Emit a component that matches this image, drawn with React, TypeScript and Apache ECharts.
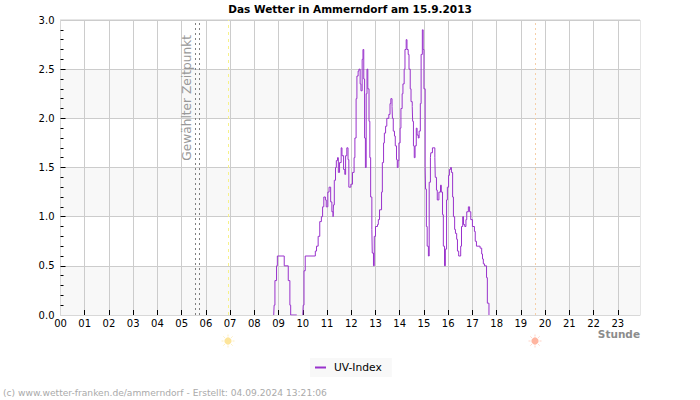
import React, { useEffect, useRef } from "react";
import * as echarts from "echarts";

// UV index through the day; times are minutes since midnight.
const morningMinutes = [528, 529, 531, 535, 537, 554, 564, 568, 570];
const morningValues = [0, 0.1, 0.35, 0.5, 0.6, 0.5, 0.35, 0.1, 0];

const dayMinutes = [
  600, 601, 603, 606, 631, 634, 638, 642, 646, 649, 652, 656, 658, 662, 665, 669, 672, 675, 676, 678,
  681, 683, 686, 688, 691, 695, 697, 701, 704, 706, 709, 712, 714, 719, 723, 727, 729, 732, 734, 737,
  739, 742, 744, 747, 749, 751, 753, 755, 757, 759, 761, 764, 766, 768, 771, 772, 775, 777, 780, 785,
  787, 790, 795, 797, 800, 802, 805, 808, 813, 816, 818, 821, 822, 824, 827, 829, 832, 834, 836, 838,
  841, 843, 846, 848, 851, 853, 856, 858, 861, 863, 866, 868, 871, 872, 874, 876, 878, 881, 883, 886,
  888, 891, 893, 896, 898, 900, 903, 904, 906, 908, 911, 913, 916, 917, 921, 927, 928, 931, 933, 937,
  941, 943, 946, 948, 951, 953, 956, 958, 961, 963, 966, 968, 971, 973, 976, 978, 981, 983, 986, 991,
  993, 996, 998, 1001, 1004, 1006, 1010, 1013, 1016, 1020, 1025, 1027, 1030, 1039, 1043, 1045, 1047, 1050, 1055, 1057,
  1061,
];
const dayValues = [
  0, 0.1, 0.45, 0.6, 0.65, 0.7, 0.8, 0.95, 1.0, 1.1, 1.2, 1.17, 1.1, 1.25, 1.3, 1.15, 1.05, 1.0, 1.12, 1.37,
  1.5, 1.57, 1.6, 1.45, 1.55, 1.7, 1.62, 1.48, 1.43, 1.62, 1.7, 1.58, 1.3, 1.33, 1.45, 1.6, 1.8, 2.2, 2.43, 2.48,
  2.5, 2.35, 2.28, 2.6, 2.7, 2.4, 1.8, 1.5, 2.25, 2.5, 2.3, 1.97, 1.6, 1.2, 0.87, 0.63, 0.5, 0.8, 0.9, 0.92,
  0.97, 1.07, 1.25, 1.55, 1.75, 1.85, 1.92, 2.0, 2.04, 2.15, 2.2, 2.12, 2.0, 1.87, 1.82, 1.72, 1.58, 1.5, 1.57, 1.75,
  1.9, 2.1, 2.25, 2.35, 2.5, 2.7, 2.8, 2.7, 2.65, 2.5, 2.3, 2.17, 2.12, 1.97, 1.72, 1.6, 1.72, 1.9, 1.83, 1.8,
  1.87, 2.15, 2.65, 2.9, 2.7, 2.3, 1.5, 1.28, 0.9, 0.7, 0.6, 1.35, 1.6, 1.65, 1.7, 1.6, 1.4, 1.27, 1.17, 1.25,
  1.32, 1.25, 1.02, 0.7, 0.5, 0.67, 1.17, 1.3, 1.42, 1.48, 1.5, 1.45, 1.2, 1.0, 0.87, 0.83, 0.77, 0.65, 0.6, 0.7,
  0.9, 1.0, 0.92, 0.9, 0.97, 1.05, 1.1, 1.05, 0.97, 0.9, 0.85, 0.75, 0.7, 0.68, 0.62, 0.57, 0.52, 0.5, 0.38, 0.12,
  0,
];

const hourTicks = Array.from({ length: 24 }, (_, h) => h * 60);
const valueTicks = [0.5, 1.0, 1.5, 2.0, 2.5];
const fineValueTicks = [
  0.1, 0.2, 0.3, 0.4, 0.6, 0.7, 0.8, 0.9, 1.1, 1.2, 1.3, 1.4, 1.6, 1.7, 1.8, 1.9, 2.1, 2.2, 2.3, 2.4, 2.6, 2.7, 2.8, 2.9,
];
const selectedMinutes = [333, 343];
const sunriseMinute = 416;
const sunsetMinute = 1175;

const font = "DejaVu Sans";

function sun(cx: number, cy: number, core: string, ray: string) {
  const rays = Array.from({ length: 8 }, (_, i) => {
    const a = (i * Math.PI) / 4;
    return {
      type: "line",
      shape: {
        x1: cx + Math.cos(a) * 4.5,
        y1: cy + Math.sin(a) * 4.5,
        x2: cx + Math.cos(a) * 6.5,
        y2: cy + Math.sin(a) * 6.5,
      },
      style: { stroke: ray, lineWidth: 1 },
    };
  });
  return {
    type: "group",
    children: [...rays, { type: "circle", shape: { cx, cy, r: 3.6 }, style: { fill: core } }],
  };
}

// A tick-only y axis on the main scale; one carries the half-unit ticks, one the tenths.
function tickAxis(values: number[], length: number) {
  return {
    type: "value",
    position: "left",
    min: 0,
    max: 3,
    interval: 0.5,
    axisLine: { show: false },
    axisLabel: { show: false },
    splitLine: { show: false },
    splitArea: { show: false },
    axisTick: {
      show: true,
      inside: true,
      length,
      lineStyle: { color: "#000000", width: 1 },
      customValues: values,
    },
  };
}

export default function App() {
  const ref = useRef<HTMLDivElement>(null);

  useEffect(() => {
    document.body.style.margin = "0";
    const chart = echarts.init(ref.current!, null, { renderer: "svg" });
    const points = [
      ...morningMinutes.map((m, i) => [m, morningValues[i]]),
      [585, null],
      ...dayMinutes.map((m, i) => [m, dayValues[i]]),
    ];
    chart.setOption({
      animation: false,
      backgroundColor: "#ffffff",
      title: {
        text: "Das Wetter in Ammerndorf am 15.9.2013",
        left: 350,
        top: 3,
        padding: 0,
        textAlign: "center",
        textStyle: { fontFamily: font, fontSize: 10.5, fontWeight: "bold", color: "#000000" },
      },
      legend: {
        left: 310,
        top: 358,
        padding: [4, 10, 4, 5],
        backgroundColor: "#f8f8f8",
        itemWidth: 11,
        itemHeight: 2,
        itemGap: 0,
        icon: "rect",
        textStyle: { fontFamily: font, fontSize: 10.7, color: "#000000", padding: [0, 0, 0, 3] },
        data: ["UV-Index"],
      },
      grid: {
        left: 60.5,
        right: 60,
        top: 20,
        bottom: 85,
        containLabel: false,
        show: true,
        borderColor: "#cccccc",
        borderWidth: 1,
        backgroundColor: "transparent",
      },
      xAxis: {
        type: "value",
        min: 0,
        max: 1435,
        interval: 60,
        name: "Stunde",
        nameLocation: "end",
        nameGap: 0,
        nameTextStyle: {
          fontFamily: font,
          fontSize: 10.5,
          fontWeight: "bold",
          color: "#8c8c8c",
          align: "right",
          verticalAlign: "top",
          padding: [13, 0, 0, 0],
        },
        axisLine: { show: true, lineStyle: { color: "#d8d8d8", width: 1 } },
        axisTick: {
          show: true,
          inside: true,
          length: 5,
          lineStyle: { color: "#000000", width: 1 },
          customValues: hourTicks.slice(1),
        },
        axisLabel: {
          fontFamily: font,
          fontSize: 10,
          color: "#000000",
          margin: 3,
          customValues: hourTicks,
          formatter: (v: number) => String(Math.round(v / 60)).padStart(2, "0"),
        },
        splitLine: { show: true, lineStyle: { color: "#cccccc", width: 1 } },
      },
      yAxis: [
        {
          type: "value",
          min: 0,
          max: 3,
          interval: 0.5,
          axisLine: { show: true, lineStyle: { color: "#d8d8d8", width: 1 } },
          axisTick: { show: false },
          axisLabel: {
            fontFamily: font,
            fontSize: 10,
            color: "#000000",
            margin: 6,
            formatter: (v: number) => v.toFixed(1),
          },
          splitLine: { show: true, lineStyle: { color: "#cccccc", width: 1 } },
          splitArea: { show: true, areaStyle: { color: ["#f8f8f8", "#ffffff"] } },
        },
        tickAxis(valueTicks, 5),
        tickAxis(fineValueTicks, 3),
      ],
      series: [
        {
          name: "UV-Index",
          type: "line",
          step: "end",
          showSymbol: false,
          connectNulls: false,
          lineStyle: { color: "#9932cc", width: 1 },
          itemStyle: { color: "#9932cc" },
          data: points,
          markLine: {
            silent: true,
            symbol: "none",
            label: { show: false },
            data: [
              {
                xAxis: selectedMinutes[0],
                lineStyle: { color: "#808080", type: [2, 3], width: 1 },
                label: {
                  show: true,
                  formatter: "Gewählter Zeitpunkt",
                  position: "insideEndTop",
                  distance: [15, 2],
                  fontFamily: font,
                  fontSize: 12.2,
                  color: "#999999",
                },
              },
              {
                xAxis: selectedMinutes[1],
                lineStyle: { color: "#808080", type: [2, 3], width: 1 },
              },
              { xAxis: sunriseMinute, lineStyle: { color: "#f7f28a", type: [3, 4], width: 1 } },
              { xAxis: sunsetMinute, lineStyle: { color: "#f6cfa8", type: [2, 3], width: 1 } },
            ],
          },
        },
      ],
      graphic: [
        sun(228, 341, "#fde59b", "#fdeec0"),
        sun(535, 341, "#ffb5a0", "#ffd3c6"),
        {
          type: "text",
          x: 3,
          y: 393,
          style: {
            text: "(c) www.wetter-franken.de/ammerndorf - Erstellt: 04.09.2024 13:21:06",
            fontFamily: font,
            fontSize: 9.14,
            fill: "#aaaaaa",
            textVerticalAlign: "middle",
          },
        },
      ],
    });
    return () => chart.dispose();
  }, []);

  return <div ref={ref} style={{ position: "absolute", left: 0, top: 0, width: 700, height: 400 }} />;
}
